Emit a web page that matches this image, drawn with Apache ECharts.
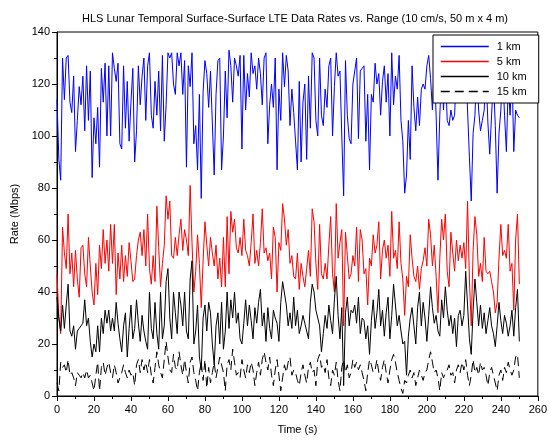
<!DOCTYPE html>
<html><head><meta charset="utf-8">
<script src="https://cdn.jsdelivr.net/npm/echarts@6/dist/echarts.min.js"></script>
<style>html,body{margin:0;padding:0;background:#fff}#c{width:550px;height:440px}</style>
</head><body><div id="c"></div>
<script>
const titleText = 'HLS Lunar Temporal Surface-Surface LTE Data Rates vs. Range (10 cm/s, 50 m x 4 m)';
const seriesNames = ['1 km', '5 km', '10 km', '15 km'];
const xLabel = 'Time (s)';
const yLabel = 'Rate (Mbps)';
// samples are one per second starting at t = 0
const rate1km = [114,91,83,130,114,130,131,113,109,123,94,106,119,112,123,102,127,106,125,84,107,97,111,88,126,113,128,100,127,100,132,126,121,128,97,95,127,103,121,98,113,126,90,102,127,112,123,130,106,127,132,108,103,121,108,125,102,131,98,112,132,130,132,120,116,132,
127,132,116,129,88,127,119,132,97,104,87,116,76,117,129,124,111,125,125,85,116,129,130,87,100,125,107,133,127,113,130,127,123,131,95,131,110,124,115,132,124,127,118,130,124,112,130,132,97,112,120,111,130,87,118,106,132,119,131,125,104,118,109,98,87,121,90,113,
120,91,123,103,132,130,106,100,130,108,104,118,111,127,130,100,119,132,123,125,100,77,129,108,99,97,120,125,130,99,125,126,127,98,116,87,116,113,128,120,124,108,121,127,113,124,100,132,112,123,118,131,106,98,78,85,106,91,127,111,102,115,104,118,120,118,127,
131,122,110,128,108,83,108,125,110,127,106,104,110,106,108,126,130,118,128,124,130,110,92,75,101,108,126,110,102,106,110,125,105,93,108,122,104,78,101,110,125,108,94,120,108,126,94,110,108,107];
const rate5km = [47,30,24,65,55,49,70,47,55,42,56,45,38,57,58,47,42,61,50,40,35,51,39,58,49,64,51,60,48,66,51,66,39,55,45,58,44,54,46,59,52,44,45,54,60,63,54,64,50,70,49,43,54,44,73,57,42,51,58,77,68,75,54,53,61,54,
62,68,56,64,60,54,81,59,40,48,62,51,34,52,67,58,50,61,55,50,58,45,53,42,61,42,69,47,71,63,68,57,55,61,54,68,56,54,50,59,70,51,56,50,59,72,55,57,52,55,45,65,61,40,59,56,74,68,58,64,51,54,46,45,55,41,51,46,
42,49,56,46,72,67,51,41,66,47,45,51,45,58,69,47,40,74,53,59,64,27,63,54,45,47,54,50,65,44,64,60,47,49,35,53,50,62,55,58,67,45,56,60,53,58,46,71,53,56,49,67,51,45,31,46,42,62,53,46,44,50,41,49,52,57,50,
68,62,50,58,46,32,53,68,60,70,48,42,63,55,48,60,52,58,53,59,49,75,45,27,56,69,62,46,51,44,61,48,47,48,44,40,32,36,53,66,54,56,53,66,48,51,33,60,70,43];
const rate10km = [38,30,25,35,26,35,43,25,23,27,18,25,26,27,28,37,27,30,21,15,20,17,27,17,30,24,33,28,33,25,30,25,36,28,22,17,27,32,15,26,35,22,26,37,28,21,31,25,21,18,40,26,22,36,24,18,40,22,27,44,49,30,22,40,32,24,
40,35,27,40,25,22,45,52,20,25,35,15,10,30,35,25,36,32,20,12,27,32,20,36,18,25,40,26,37,30,40,28,32,22,20,28,37,27,35,29,22,34,28,36,41,27,32,21,34,26,22,33,30,28,21,36,44,44,35,27,32,26,38,27,33,24,27,31,
28,28,22,36,43,40,33,30,27,17,24,31,26,35,29,24,37,46,31,22,34,4,32,38,27,33,32,35,28,38,24,30,29,22,27,16,29,37,26,32,41,27,33,23,32,38,22,31,43,35,27,31,25,20,21,8,23,30,34,27,20,34,40,27,36,30,21,
31,42,34,28,31,25,23,37,30,42,33,27,31,24,30,19,31,33,27,31,48,35,22,16,33,45,36,27,35,26,32,24,29,34,27,24,19,27,36,29,24,31,28,23,27,33,23,34,41,21];
const rate15km = [5,2,13,11,12,9,14,8,9,7,4,9,8,7,9,7,10,7,8,5,2,8,13,2,11,13,8,11,13,9,7,12,9,5,7,9,12,9,7,10,8,9,4,12,14,9,14,10,13,9,14,8,5,11,17,12,9,7,14,21,15,10,9,16,11,10,
17,12,8,14,9,5,13,15,9,6,2,9,13,6,14,3,11,5,9,13,7,11,15,12,9,2,12,14,10,18,13,8,9,7,14,10,7,12,9,13,10,4,9,13,8,14,17,13,10,15,8,4,10,14,8,2,7,12,9,13,15,8,10,9,6,4,9,12,
8,5,11,13,9,10,4,14,16,11,12,9,14,7,4,10,8,13,6,2,11,14,9,12,7,9,14,11,13,10,12,9,6,2,9,14,12,9,10,14,9,6,11,14,9,5,10,14,16,13,9,6,3,1,6,5,8,10,7,9,4,7,10,8,6,9,10,
14,17,13,9,10,7,2,9,7,9,10,12,8,9,5,10,12,9,13,10,14,8,4,8,14,9,11,8,13,10,11,8,4,9,11,8,5,2,8,10,6,11,9,13,10,8,10,15,16,7];

const FONT = 'Liberation Sans, Arial, sans-serif';
function pairs(arr) { return arr.map((v, i) => [i, v]); }
const chart = echarts.init(document.getElementById('c'), null, { renderer: 'canvas' });
const styles = [
  { color: '#0000ff', type: 'solid' },
  { color: '#ff0000', type: 'solid' },
  { color: '#000000', type: 'solid' },
  { color: '#000000', type: [9, 5] }
];
const allData = [rate1km, rate5km, rate10km, rate15km];
chart.setOption({
  animation: false,
  backgroundColor: '#fff',
  textStyle: { fontFamily: FONT },
  title: {
    text: titleText, left: 290, top: 8, textAlign: 'center',
    textStyle: { fontFamily: FONT, fontSize: 11, fontWeight: 'normal', color: '#000' }
  },
  legend: {
    orient: 'vertical', left: 433, top: 35,
    padding: [6, 12, 6, 7], itemGap: 4, itemWidth: 48, itemHeight: 12,
    backgroundColor: '#fff', borderColor: '#000', borderWidth: 1, borderRadius: 0,
    itemStyle: { opacity: 0 },
    lineStyle: { width: 1.5 },
    textStyle: { fontFamily: FONT, fontSize: 11, color: '#000', padding: [0, 0, 0, 3] },
    data: seriesNames
  },
  grid: { left: 57, right: 10, top: 32, bottom: 43, show: true, borderColor: '#000', borderWidth: 1, backgroundColor: '#fff' },
  xAxis: {
    type: 'value', min: 0, max: 260, interval: 20,
    name: xLabel, nameLocation: 'middle', nameGap: 28,
    nameTextStyle: { fontFamily: FONT, fontSize: 11, color: '#000' },
    axisLine: { show: true, lineStyle: { color: '#000', width: 1 } },
    axisTick: { show: true, length: 5, lineStyle: { color: '#000' } },
    minorTick: { show: true, splitNumber: 2, length: 3, lineStyle: { color: '#000' } },
    axisLabel: { fontFamily: FONT, fontSize: 11, color: '#000', margin: 8 },
    splitLine: { show: false }
  },
  yAxis: {
    type: 'value', min: 0, max: 140, interval: 20,
    name: yLabel, nameLocation: 'middle', nameGap: 36,
    nameTextStyle: { fontFamily: FONT, fontSize: 11, color: '#000' },
    axisLine: { show: true, lineStyle: { color: '#000', width: 1 } },
    axisTick: { show: true, length: 5, lineStyle: { color: '#000' } },
    minorTick: { show: true, splitNumber: 2, length: 3, lineStyle: { color: '#000' } },
    axisLabel: { fontFamily: FONT, fontSize: 11, color: '#000', margin: 7 },
    splitLine: { show: false }
  },
  series: allData.map((d, k) => ({
    name: seriesNames[k], type: 'line', data: pairs(d),
    symbol: 'none', showSymbol: false,
    lineStyle: { color: styles[k].color, width: 1, type: styles[k].type },
    itemStyle: { color: styles[k].color }
  }))
});
</script></body></html>
